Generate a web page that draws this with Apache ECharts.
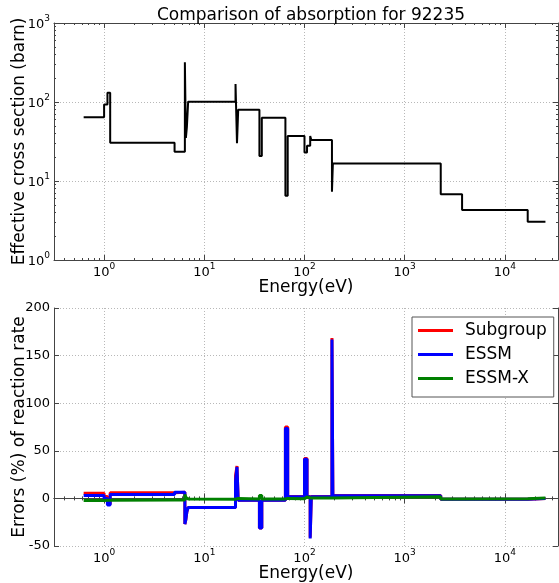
<!DOCTYPE html>
<html><head><meta charset="utf-8">
<script src="https://cdn.jsdelivr.net/npm/echarts@6/dist/echarts.min.js"></script>
<style>html,body{margin:0;padding:0;background:#fff}#c{width:559px;height:583px}</style>
</head><body><div id="c"></div>
<script>
// Group lower bounds (eV) plus final upper bound
const energyBounds = [0.625, 1.0, 1.08, 1.15, 5.05, 6.4, 6.55, 6.7, 6.9, 20.5, 21.2, 21.8, 35.5, 37.5, 64.5, 68, 100, 106, 114, 117, 188, 192, 2290, 3740, 16900, 25400];
// Effective absorption cross section per group (barn)
const absorption = [64, 93, 131, 30.5, 23.5, 318, 35, 48, 101, 169, 30, 80, 20.7, 63.3, 6.5, 37.1, 23.0, 28.0, 37, 33.0, 7.3, 16.7, 6.8, 4.3, 3.05];
// Reaction-rate errors (%) per group
const subgroupErr = [5.5, 2, -6, 6, 6.5, -27, -22, -14, -9.5, 24, 34, -2, -31, -2, 75, 2, 42, 2, -41, 2, 168.5, 3, -1, -1, 0];
const essmErr     = [3, 0, -7, 4, 6.5, -27, -22, -14, -9.5, 18, 33, -2, -31, -2, 73.5, 1.7, 41, 1.7, -42, 1.7, 167, 2.8, -1, -1, 0];
const essmxErr    = [-2.3, -2, -2, -1.8, -1.8, 4, 1, -0.5, -0.8, 0.5, 0, -0.5, 3, -0.5, 0, -0.3, 1.5, 0.5, 0, 0.5, 1.5, 1.7, -0.7, -0.3, 0.3];
const errTicks = [-50, 0, 50, 100, 150, 200];
const xRange = [0.3162, 33900];
const sigmaRange = [1, 1000];

const FONT = 'DejaVu Sans';
function stepData(values) {
  const d = values.map((v, i) => [energyBounds[i], v]);
  d.push([energyBounds[energyBounds.length - 1], values[values.length - 1]]);
  return d;
}
function powLabel(v) {
  const e = Math.log10(v);
  const r = Math.round(e);
  if (Math.abs(e - r) > 1e-4) return '';
  return '{b|10}{s|' + r + '}';
}
const rich = {
  b: {fontSize: 13, fontFamily: FONT, color: '#000', lineHeight: 17, verticalAlign: 'bottom'},
  s: {fontSize: 9, fontFamily: FONT, color: '#000', lineHeight: 9, verticalAlign: 'top'}
};
const frame = {show: true, lineStyle: {color: '#444', width: 1}};
const tick = {show: true, inside: true, length: 5, lineStyle: {color: '#444'}};
const minor = {show: true, splitNumber: 9, length: 2, lineStyle: {color: '#444'}};
const split = {show: true, lineStyle: {color: '#b8b8b8', type: [1, 2], width: 1}};
const nameStyle = {fontSize: 17, fontFamily: FONT, color: '#000'};

function logX(grid, pos, labels, name) {
  return {
    type: 'log', logBase: 10, gridIndex: grid, position: pos,
    min: xRange[0], max: xRange[1],
    axisLine: frame, axisTick: tick, minorTick: minor, splitLine: pos === 'bottom' ? split : {show: false},
    axisLabel: labels ? {show: true, formatter: powLabel, rich: rich, margin: 2, showMinLabel: false, showMaxLabel: false} : {show: false},
    name: name || '', nameLocation: 'middle', nameGap: 19, nameTextStyle: nameStyle, nameMoveOverlap: false
  };
}

const chart = echarts.init(document.getElementById('c'), null, {renderer: 'canvas'});
chart.setOption({
  animation: false,
  backgroundColor: '#fff',
  title: {
    text: 'Comparison of absorption for 92235',
    left: 306, top: 2, textAlign: 'center',
    textStyle: {fontSize: 17, fontWeight: 'normal', fontFamily: FONT, color: '#000'}
  },
  grid: [
    {left: 54, right: 1, top: 23, height: 237, outerBoundsMode: 'none', containLabel: false},
    {left: 54, right: 1, top: 308, height: 238, outerBoundsMode: 'none', containLabel: false}
  ],
  legend: {
    data: ['Subgroup', 'ESSM', 'ESSM-X'],
    orient: 'vertical', left: 412, top: 317,
    padding: [5, 7, 10, 6],
    icon: 'rect',
    itemWidth: 35, itemHeight: 3, itemGap: 7,
    borderColor: '#555', borderWidth: 1, backgroundColor: '#fff',
    textStyle: {fontSize: 17, fontFamily: FONT, color: '#000', padding: [0, 0, 0, 7]}
  },
  xAxis: [
    logX(0, 'bottom', true, 'Energy(eV)'),
    logX(0, 'top', false),
    logX(1, 'bottom', true, 'Energy(eV)'),
    logX(1, 'top', false)
  ],
  yAxis: [
    {type: 'log', logBase: 10, gridIndex: 0, position: 'left', min: sigmaRange[0], max: sigmaRange[1],
     axisLine: frame, axisTick: tick, minorTick: minor, splitLine: split,
     axisLabel: {formatter: powLabel, rich: rich, margin: 4},
     name: 'Effective cross section (barn)', nameLocation: 'middle', nameGap: 26, nameTextStyle: nameStyle, nameMoveOverlap: false},
    {type: 'log', logBase: 10, gridIndex: 0, position: 'right', min: sigmaRange[0], max: sigmaRange[1],
     axisLine: frame, axisTick: tick, minorTick: minor, splitLine: {show: false}, axisLabel: {show: false}},
    {type: 'value', gridIndex: 1, position: 'left', min: errTicks[0], max: errTicks[errTicks.length - 1], interval: 50,
     axisLine: frame, axisTick: tick, splitLine: split,
     axisLabel: {fontSize: 13, fontFamily: FONT, color: '#000', margin: 4},
     name: 'Errors (%) of reaction rate', nameLocation: 'middle', nameGap: 26, nameTextStyle: nameStyle, nameMoveOverlap: false},
    {type: 'value', gridIndex: 1, position: 'right', min: errTicks[0], max: errTicks[errTicks.length - 1], interval: 50,
     axisLine: frame, axisTick: tick, splitLine: {show: false}, axisLabel: {show: false}}
  ],
  series: [
    {type: 'line', name: 'absorption', xAxisIndex: 0, yAxisIndex: 0, step: 'end', showSymbol: false, symbol: 'none',
     data: stepData(absorption), lineStyle: {color: '#000', width: 2}, itemStyle: {color: '#000'}},
    {type: 'line', name: 'Subgroup', xAxisIndex: 2, yAxisIndex: 2, step: 'end', showSymbol: false, symbol: 'none',
     data: stepData(subgroupErr), lineStyle: {color: '#ff0000', width: 3}, itemStyle: {color: '#ff0000'}},
    {type: 'line', name: 'ESSM', xAxisIndex: 2, yAxisIndex: 2, step: 'end', showSymbol: false, symbol: 'none',
     data: stepData(essmErr), lineStyle: {color: '#0000ff', width: 3}, itemStyle: {color: '#0000ff'}},
    {type: 'line', name: 'ESSM-X', xAxisIndex: 2, yAxisIndex: 2, step: 'end', showSymbol: false, symbol: 'none',
     data: stepData(essmxErr), lineStyle: {color: '#008000', width: 3}, itemStyle: {color: '#008000'}}
  ]
});
</script>
</body></html>
